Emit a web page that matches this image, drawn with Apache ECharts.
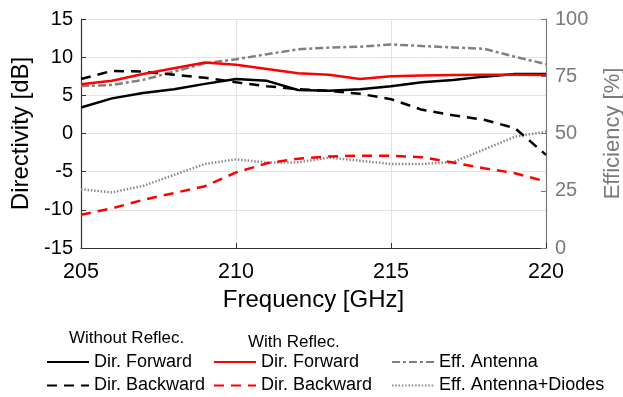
<!DOCTYPE html>
<html><head><meta charset="utf-8">
<script src="https://cdn.jsdelivr.net/npm/echarts@6/dist/echarts.min.js"></script>
<style>html,body{margin:0;padding:0;background:#fff}#c{width:623px;height:397px}</style>
</head><body><div id="c"></div>
<script>
const freq = [205,206,207,208,209,210,211,212,213,214,215,216,217,218,219,220];
const dirFwdNoRef = [3.4,4.6,5.3,5.8,6.5,7.15,6.9,5.7,5.6,5.8,6.2,6.7,7.0,7.45,7.8,7.8];
const dirBwdNoRef = [7.15,8.2,8.1,7.7,7.3,6.7,6.2,5.8,5.6,5.2,4.5,3.1,2.4,1.8,0.7,-2.8];
const dirFwdRef = [6.45,6.9,7.8,8.55,9.3,9.0,8.45,7.9,7.7,7.15,7.5,7.6,7.65,7.7,7.7,7.65];
const dirBwdRef = [-10.65,-9.8,-8.7,-7.8,-6.9,-5.1,-3.9,-3.3,-3.0,-2.9,-2.9,-3.1,-3.8,-4.55,-5.2,-6.3];
const effAnt = [70.7,71.2,73.4,77.0,80.7,82.4,84.6,86.8,87.5,87.9,88.9,88.2,87.6,87.0,83.5,80.3];
const effAntDiodes = [25.6,24.3,27.1,31.9,36.7,38.7,37.3,37.4,39.5,38.1,36.7,36.7,37.5,43.0,48.6,50.8];
const leftTicks = {min:-15,max:15,interval:5};
const rightTicks = {min:0,max:100,interval:25};
const xTicks = {min:205,max:220,interval:5};

const FONT = 'Liberation Sans, Arial, sans-serif';
function pairs(v){ return freq.map((f,i)=>[f,v[i]]); }
function ser(name, data, color, type, yIdx){
  return {name, type:'line', data:pairs(data), yAxisIndex:yIdx, symbol:'none', smooth:false,
    lineStyle:{color, width:2.5, type}, itemStyle:{color}, z: yIdx===1?2:3};
}
function leg(left, names){
  return {orient:'vertical', left, top:352, padding:0, itemWidth:42, itemHeight:14, itemGap:3.5,
    itemStyle:{opacity:0},
    textStyle:{fontSize:18, lineHeight:20, color:'#000', fontFamily:FONT}, data:names};
}
const chart = echarts.init(document.getElementById('c'));
chart.setOption({
  animation:false,
  textStyle:{fontFamily:FONT},
  grid:{left:81, right:77, top:19, bottom:149, containLabel:false, outerBoundsMode:'none'},
  xAxis:{type:'value', min:xTicks.min, max:xTicks.max, interval:xTicks.interval,
    name:'Frequency [GHz]', nameLocation:'middle', nameGap:40,
    nameTextStyle:{fontSize:24, color:'#000', fontFamily:FONT},
    axisLine:{onZero:false, lineStyle:{color:'#333', width:1.2}},
    axisTick:{inside:true, length:5, lineStyle:{color:'#333'}},
    axisLabel:{fontSize:21.5, color:'#000', margin:13, fontFamily:FONT},
    splitLine:{show:true, lineStyle:{color:'#e3e3e3', width:1}}},
  yAxis:[
    {type:'value', position:'left', min:leftTicks.min, max:leftTicks.max, interval:leftTicks.interval,
      name:'Directivity [dB]', nameLocation:'middle', nameGap:43, nameRotate:90,
      nameTextStyle:{fontSize:24, color:'#000', fontFamily:FONT},
      axisLine:{show:true, onZero:false, lineStyle:{color:'#333', width:1.2}},
      axisTick:{show:true, inside:true, length:5, lineStyle:{color:'#333'}},
      axisLabel:{fontSize:20, color:'#000', margin:8, fontFamily:FONT},
      splitLine:{show:true, lineStyle:{color:'#e3e3e3', width:1}}},
    {type:'value', position:'right', min:rightTicks.min, max:rightTicks.max, interval:rightTicks.interval,
      name:'Efficiency [%]', nameLocation:'middle', nameGap:56, nameRotate:90,
      nameTextStyle:{fontSize:22, color:'#7a7a7a', fontFamily:FONT},
      axisLine:{show:true, onZero:false, lineStyle:{color:'#7a7a7a', width:1.2}},
      axisTick:{show:true, inside:true, length:5, lineStyle:{color:'#7a7a7a'}},
      axisLabel:{fontSize:20, color:'#7a7a7a', margin:9, fontFamily:FONT},
      splitLine:{show:false}}
  ],
  legend:[
    leg(46, ['Dir. Forward','Dir. Backward']),
    leg(213, ['Dir. Forward ','Dir. Backward ']),
    leg(391, ['Eff. Antenna','Eff. Antenna+Diodes'])
  ],
  graphic:[
    {type:'text', left:69, top:330, style:{text:'Without Reflec.', fontSize:17, fill:'#000', fontFamily:FONT}},
    {type:'text', left:248, top:334, style:{text:'With Reflec.', fontSize:17, fill:'#000', fontFamily:FONT}}
  ],
  series:[
    ser('Eff. Antenna', effAnt, '#808080', [8,3,3,3], 1),
    ser('Eff. Antenna+Diodes', effAntDiodes, '#8a8a8a', [1.5,1.8], 1),
    ser('Dir. Forward', dirFwdNoRef, '#000', 'solid', 0),
    ser('Dir. Backward', dirBwdNoRef, '#000', [10,7], 0),
    ser('Dir. Forward ', dirFwdRef, '#ff0000', 'solid', 0),
    ser('Dir. Backward ', dirBwdRef, '#ff0000', [10,7], 0)
  ]
});
</script></body></html>
